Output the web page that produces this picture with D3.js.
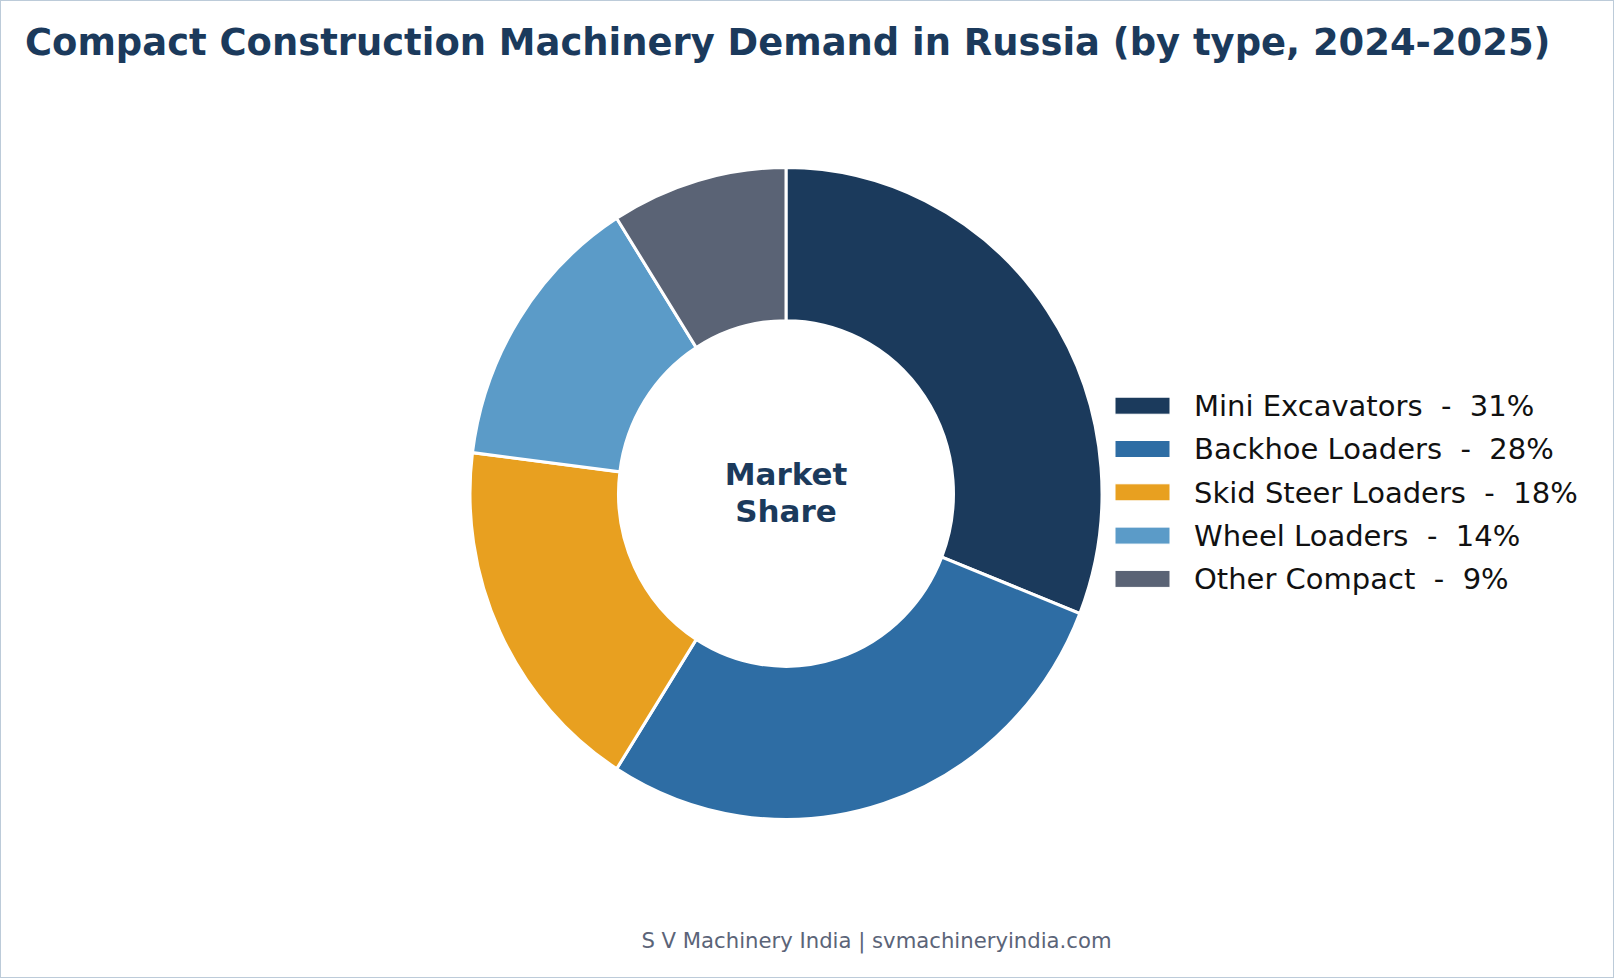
<!DOCTYPE html>
<html>
<head>
<meta charset="utf-8">
<script src="https://cdn.jsdelivr.net/npm/d3@7"></script>
<style>
  html, body { margin: 0; padding: 0; background: #ffffff; }
  svg { display: block; font-family: "DejaVu Sans", sans-serif; }
  text { white-space: pre; }
</style>
</head>
<body>
<script>
const categories = ["Mini Excavators", "Backhoe Loaders", "Skid Steer Loaders", "Wheel Loaders", "Other Compact"];
const shares = [31, 28, 18, 14, 9];
const colors = ["#1b3a5c", "#2e6da4", "#e8a020", "#5b9bc8", "#5a6375"];
const titleText = "Compact Construction Machinery Demand in Russia (by type, 2024-2025)";
const centerLines = ["Market", "Share"];
const footerText = "S V Machinery India | svmachineryindia.com";

const W = 1614, H = 978;
const svg = d3.select("body").append("svg").attr("width", W).attr("height", H);

svg.append("rect").attr("x", 0.5).attr("y", 0.5).attr("width", W - 1).attr("height", H - 1)
  .attr("fill", "#ffffff").attr("stroke", "#bccbd9").attr("stroke-width", 1);

svg.append("text").attr("x", 25).attr("y", 55)
  .attr("font-size", 36.9).attr("font-weight", "bold").attr("fill", "#1b3a5c")
  .text(titleText);

const cx = 786, cy = 493.5, rx = 316, ry = 326;
const rOuter = rx, rInner = rx * 0.53;

const pie = d3.pie().sort(null).value(d => d)(shares);
const arc = d3.arc().innerRadius(rInner).outerRadius(rOuter);

const g = svg.append("g").attr("transform", `translate(${cx},${cy}) scale(1,${ry / rx})`);
g.selectAll("path").data(pie).enter().append("path")
  .attr("d", arc)
  .attr("fill", (d, i) => colors[i])
  .attr("stroke", "#ffffff").attr("stroke-width", 3).attr("stroke-linejoin", "miter");

const ct = svg.append("g").attr("transform", `translate(${cx},${cy})`);
ct.selectAll("text").data(centerLines).enter().append("text")
  .attr("x", 0).attr("y", (d, i) => -8.5 + i * 36.7)
  .attr("text-anchor", "middle").attr("font-size", 31).attr("font-weight", "bold")
  .attr("fill", "#1b3a5c").text(d => d);

const legend = svg.append("g");
const rowY = d3.scaleLinear().domain([0, 1]).range([405.7, 449]);
const items = legend.selectAll("g").data(categories).enter().append("g")
  .attr("transform", (d, i) => `translate(0,${rowY(i)})`);
items.append("rect").attr("x", 1115).attr("y", -8.5).attr("width", 55).attr("height", 17)
  .attr("fill", (d, i) => colors[i]).attr("stroke", "#ffffff").attr("stroke-width", 1);
items.append("text").attr("x", 1194).attr("y", 10.3)
  .attr("font-size", 29).attr("fill", "#111111")
  .text((d, i) => `${d}  -  ${shares[i]}%`);

svg.append("text").attr("x", 876.5).attr("y", 947.5).attr("text-anchor", "middle")
  .attr("font-size", 21.2).attr("fill", "#5b6478").text(footerText);
</script>
</body>
</html>
